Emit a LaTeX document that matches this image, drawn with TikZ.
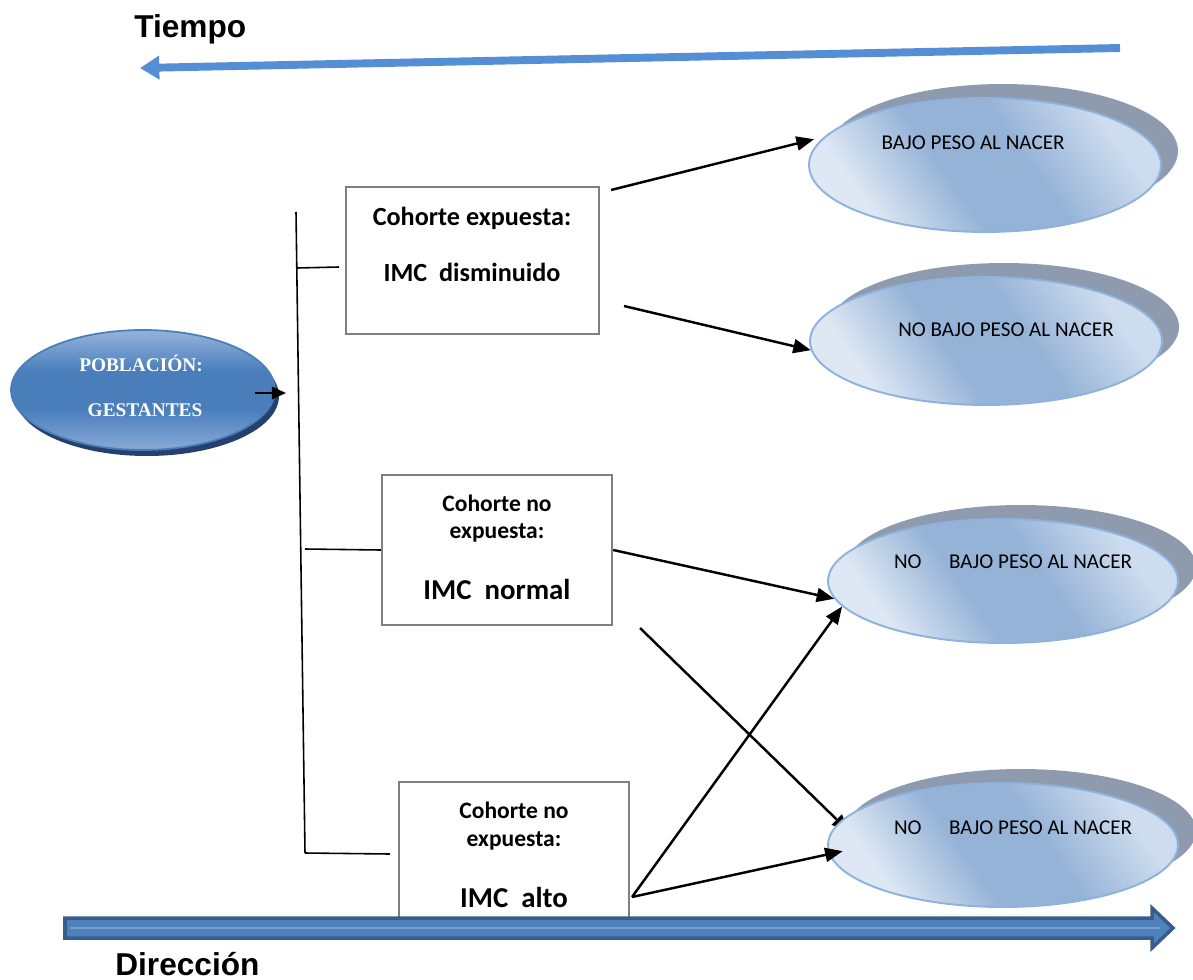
\documentclass[tikz,border=0pt]{standalone}
\usepackage{fontspec}
\setmainfont{Carlito}
\newfontfamily\arialf{Liberation Sans}
\newfontfamily\timesf{Liberation Serif}
\usetikzlibrary{arrows.meta,shapes.geometric,calc}
\definecolor{topblue}{RGB}{85,142,213}
\definecolor{barfill}{RGB}{79,129,189}
\definecolor{barline}{RGB}{56,93,138}
\definecolor{elight}{RGB}{222,232,244}
\definecolor{elighttop}{RGB}{205,220,238}
\definecolor{emid}{RGB}{149,179,215}
\definecolor{eborder}{RGB}{142,178,222}
\definecolor{eshadow}{RGB}{142,155,174}
\definecolor{pdark}{RGB}{38,64,110}
\definecolor{pmid}{RGB}{74,126,187}
\definecolor{plight}{RGB}{150,180,220}
\definecolor{pbot}{RGB}{130,165,212}
\definecolor{boxgray}{RGB}{127,127,127}
\pgfdeclareverticalshading{ellshade}{100bp}{color(0bp)=(elight); color(27bp)=(elight);
  color(43bp)=(emid); color(57bp)=(emid); color(73bp)=(elighttop); color(100bp)=(elighttop)}
\pgfdeclareverticalshading{popshade}{100bp}{color(0bp)=(pbot); color(27bp)=(pbot);
  color(42bp)=(pmid); color(58bp)=(pmid); color(75bp)=(plight); color(100bp)=(plight)}
\pgfdeclarelayer{background}
\pgfsetlayers{background,main}
\begin{document}
\begin{tikzpicture}[x=0.02cm,y=-0.02cm,
  outcome/.style={ellipse, inner sep=0, draw=eborder, line width=1.1pt,
    shading=ellshade, shading angle=-55},
  shadowell/.style={ellipse, inner sep=0, fill=eshadow},
  cohort/.style={rectangle, draw=boxgray, line width=1.4pt, inner sep=0, fill=white},
  conn/.style={line width=1.4pt, -{Triangle[length=10pt,width=8pt]}},
  link/.style={line width=0.9pt},
  lbl/.style={font=\fontsize{12}{14}\selectfont, inner sep=0},
  boxsmall/.style={font=\bfseries\fontsize{13.4}{15}\selectfont, inner sep=0},
  boxbig/.style={font=\bfseries\fontsize{16.4}{18}\selectfont, inner sep=0},
  boxmid/.style={font=\bfseries\fontsize{14.9}{17}\selectfont, inner sep=0},
  poptext/.style={font=\timesf\bfseries\fontsize{11}{13}\selectfont, text=white, inner sep=0},
  title/.style={font=\arialf\bfseries\fontsize{18}{20}\selectfont, inner sep=0}
]
\useasboundingbox (0,0) rectangle (1193,980);

% Tiempo arrow
\node[title, anchor=base west] (tiempo) at (134,38) {Tiempo};
\coordinate (ta) at (1120,48);
\coordinate (tb) at (140,68);
\draw[topblue, line width=4.5pt, -{Triangle[length=11pt,width=13pt]}] (ta) -- (tb);

% outcome ellipses with shadows
\node[shadowell, minimum width=7cm, minimum height=2.68cm] (e1s) at (1003,151) {};
\node[outcome, shade, minimum width=7.04cm, minimum height=2.68cm] (e1) at (985,165) {};
\node[lbl] (e1t) at (973,143) {BAJO PESO AL NACER};

\node[shadowell, minimum width=7cm, minimum height=2.56cm] (e2s) at (1004,327) {};
\node[outcome, shade, minimum width=7.04cm, minimum height=2.56cm] (e2) at (986,341) {};
\node[lbl] (e2t) at (1006,330) {NO BAJO PESO AL NACER};

\node[shadowell, minimum width=7cm, minimum height=2.48cm] (e3s) at (1021,567) {};
\node[outcome, shade, minimum width=7cm, minimum height=2.48cm] (e3) at (1003,581) {};
\node[lbl] (e3t) at (1013,562) {NO\hspace{1.3em}BAJO PESO AL NACER};

\node[shadowell, minimum width=7cm, minimum height=2.48cm] (e4s) at (1021,831) {};
\node[outcome, shade, minimum width=7cm, minimum height=2.48cm] (e4) at (1003,845) {};
\node[lbl] (e4t) at (1013,828) {NO\hspace{1.3em}BAJO PESO AL NACER};

% population
\node[ellipse, fill=pdark, inner sep=0, minimum width=5.28cm, minimum height=2.4cm] (pops) at (147,396) {};
\node[ellipse, inner sep=0, draw=pmid, line width=1pt, shade, shading=popshade,
  minimum width=5.28cm, minimum height=2.4cm] (pop) at (143,390) {};
\node[poptext] (pop1) at (141,363) {POBLACIÓN:};
\node[poptext] (pop2) at (145,410) {GESTANTES};
\coordinate (pa) at (255,393);
\coordinate (pb) at (286,393);
\draw[line width=1.4pt, -{Triangle[length=8pt,width=7pt]}] (pa) -- (pb);

% cohort boxes
\node[cohort, minimum width=5.06cm, minimum height=2.94cm] (b1) at (472.5,260.5) {};
\node[boxmid] (b1a) at (472,218) {Cohorte expuesta:};
\node[boxmid] (b1b) at (472,272) {IMC\ \ disminuido};

\node[cohort, minimum width=4.6cm, minimum height=3cm] (b2) at (497,550) {};
\node[boxsmall] (b2a) at (497,503) {Cohorte no};
\node[boxsmall] (b2b) at (497,533) {expuesta:};
\node[boxbig] (b2c) at (497,589) {IMC\ \ normal};

\node[cohort, minimum width=4.6cm, minimum height=2.96cm] (b3) at (514,856) {};
\node[boxsmall] (b3a) at (514,810) {Cohorte no};
\node[boxsmall] (b3b) at (514,841) {expuesta:};
\node[boxbig] (b3c) at (514,897) {IMC\ \ alto};

% bracket
\coordinate (v1) at (296,212);
\coordinate (v2) at (305,853);
\draw[link] (v1) -- (v2);
\coordinate (t1a) at (297,268);
\coordinate (t1b) at (339,267);
\draw[link] (t1a) -- (t1b);
\coordinate (t2a) at (305,549);
\draw[link] (t2a) -- (b2.west);
\coordinate (t3a) at (305,853);
\coordinate (t3b) at (390,854);
\draw[link] (t3a) -- (t3b);

% connectors
\coordinate (c1a) at (611,190);
\coordinate (c1b) at (624,306);
\coordinate (c2b) at (640,628);
\coordinate (c3) at (632,897);
\draw[conn, shorten >=6pt] (c1a) -- (e1.170);
\draw[conn] (c1b) -- (e2.183);
\draw[conn] (b2.east) -- (e3.186);
\draw[conn] (c3) -- (e3.189);
\draw[conn, shorten >=-8pt] (c3) -- (e4.183);
\begin{pgfonlayer}{background}
\draw[conn, shorten >=-8pt] (c2b) -- (e4.172);
\end{pgfonlayer}

% Direccion arrow
\fill[barfill, draw=barline, line width=2pt, line join=miter]
  (65,918) -- (1152,918) -- (1152,908) -- (1173,928) -- (1152,948) -- (1152,938) -- (65,938) -- cycle;
\draw[barfill!75!white, line width=1.5pt] (70,928) -- (1160,928);
\node[title, anchor=base west] (dir) at (115,975) {Dirección};
\end{tikzpicture}
\end{document}
